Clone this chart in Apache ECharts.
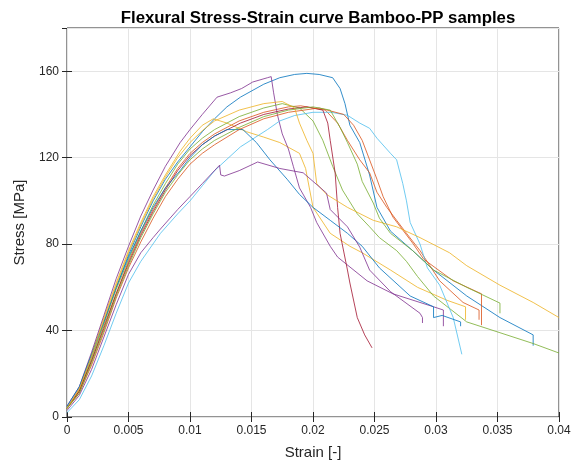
<!DOCTYPE html>
<html>
<head>
<meta charset="utf-8">
<script src="https://cdn.jsdelivr.net/npm/echarts@6/dist/echarts.min.js"></script>
<style>
    html, body { margin: 0; padding: 0; background: #fff; }
    #chart { width: 580px; height: 466px; }
</style>
</head>
<body>
<div id="chart"></div>
<script>
// [strain, stress MPa], one array per sample
var blueHigh = [[0,4],[0.001,13],[0.002,28],[0.003,44],[0.004,60],[0.005,75],[0.006,88],[0.007,100],[0.008,110],[0.009,118],[0.01,125],[0.011,132],[0.012,138],[0.013,143.5],[0.0141,148],[0.016,154],[0.0173,157],[0.0185,158.5],[0.0195,159],[0.0205,158.5],[0.0216,157],[0.0222,152],[0.0226,145],[0.023,135],[0.0238,127],[0.0246,112],[0.0252,97],[0.0263,86],[0.0281,77],[0.0298,68],[0.0325,56],[0.0352,46],[0.0379,38],[0.0379,33]];
var orange1 = [[0,4],[0.001,12],[0.002,26],[0.003,42],[0.004,57],[0.005,72],[0.006,85],[0.007,96],[0.008,106],[0.009,115],[0.01,122],[0.011,127],[0.012,131],[0.014,137],[0.016,141],[0.018,143.5],[0.019,144],[0.021,142],[0.022,136],[0.0228,128],[0.0238,119],[0.0246,113],[0.0252,104],[0.026,97],[0.0268,91],[0.0276,85],[0.0287,77],[0.0295,70],[0.0303,63],[0.0322,53],[0.0335,49.5],[0.0335,45]];
var yellowEarly = [[0,4],[0.001,13],[0.002,29],[0.003,46],[0.004,62],[0.005,77],[0.006,90],[0.007,102],[0.008,112],[0.0092,123],[0.01,129],[0.011,135],[0.0119,138],[0.013,136],[0.0146,132],[0.016,129.5],[0.0173,127],[0.0189,122],[0.0194,115],[0.0197,106],[0.02,97],[0.0214,85],[0.023,79],[0.024,76],[0.0263,68],[0.0285,60],[0.0309,54],[0.0324,51],[0.0324,45]];
var purpleHigh = [[0,5],[0.001,14],[0.002,30],[0.003,47],[0.004,64],[0.005,79],[0.006,93],[0.007,105],[0.008,116],[0.0092,127],[0.01,133],[0.011,140],[0.0122,148],[0.0133,150],[0.0142,152],[0.0151,155],[0.0163,157],[0.0166,157.5],[0.0168,150],[0.0171,140],[0.0175,131],[0.018,124],[0.0184,116],[0.0189,106],[0.0198,97],[0.0203,90],[0.0214,79],[0.022,74],[0.0244,63],[0.0265,57],[0.0287,53],[0.0298,51],[0.0306,49.5],[0.0306,42]];
var green1 = [[0,4],[0.001,12],[0.002,27],[0.003,43],[0.004,59],[0.005,73],[0.006,86],[0.007,98],[0.008,108],[0.009,117],[0.01,124],[0.011,129],[0.012,133],[0.014,139],[0.016,143],[0.0175,145],[0.0189,143],[0.02,137],[0.0208,128],[0.0216,116],[0.0224,105],[0.0236,94],[0.0246,88],[0.0254,83],[0.0268,77],[0.0276,72],[0.0285,65],[0.0298,56],[0.0325,44],[0.0352,39],[0.0379,34],[0.04,29.6]];
var lightBlue = [[0,2],[0.001,8],[0.002,19],[0.003,33],[0.004,48],[0.005,62],[0.006,72],[0.0076,85],[0.009,94],[0.01,100],[0.011,107],[0.012,114],[0.0141,125],[0.0163,133],[0.0173,137],[0.0185,139.5],[0.02,141],[0.0215,141],[0.0228,139.6],[0.0238,136],[0.0246,133.6],[0.0252,129],[0.0263,122],[0.0268,119],[0.0273,108],[0.0276,100],[0.0279,90],[0.0287,80],[0.0293,69],[0.0303,61],[0.0314,46],[0.0321,29]];
var darkRed = [[0,4],[0.001,12],[0.002,26],[0.003,41],[0.004,57],[0.005,71],[0.006,84],[0.007,95],[0.008,105],[0.009,114],[0.01,121],[0.011,126],[0.012,130],[0.0141,136],[0.016,140],[0.018,142.5],[0.0195,143.5],[0.0208,142],[0.0212,136],[0.0214,128],[0.0218,113],[0.022,97],[0.0222,85],[0.0228,68],[0.023,62],[0.0236,46],[0.0242,38],[0.0248,32]];
var blue2 = [[0,5],[0.001,14],[0.002,29],[0.003,44],[0.004,60],[0.005,74],[0.006,86],[0.007,97],[0.008,106],[0.0092,114],[0.01,120],[0.011,126],[0.012,130],[0.013,133],[0.0143,133],[0.0154,127],[0.0165,119],[0.0179,110],[0.0189,103],[0.02,97],[0.0214,91],[0.0228,85],[0.024,79],[0.0254,69],[0.0279,56],[0.0298,51],[0.0298,46],[0.0305,47],[0.032,44],[0.032,42]];
var orange2 = [[0,4],[0.001,11],[0.002,24],[0.003,39],[0.004,55],[0.005,69],[0.006,81],[0.007,92],[0.008,102],[0.009,110],[0.01,117],[0.011,122],[0.012,126],[0.014,133],[0.016,138],[0.018,141],[0.0205,143],[0.0225,140],[0.0233,135],[0.024,128],[0.0246,119],[0.0252,110],[0.0257,102],[0.0265,92.5],[0.0273,86.5],[0.0281,80.5],[0.029,73],[0.0314,63],[0.0337,57],[0.0337,42.5]];
var yellowLong = [[0,4],[0.001,13],[0.002,28],[0.003,45],[0.004,61],[0.005,76],[0.006,89],[0.007,101],[0.008,111],[0.009,120],[0.01,127],[0.011,132.5],[0.012,137],[0.014,142],[0.016,145],[0.0175,146],[0.0185,143],[0.0189,136],[0.0195,128],[0.02,122],[0.0203,108],[0.0211,103],[0.0228,97],[0.0249,91],[0.0268,88],[0.0287,83],[0.0311,76],[0.0325,70],[0.0352,61],[0.0379,53],[0.04,46]];
var purpleNotch = [[0,3],[0.001,10],[0.002,22],[0.003,37],[0.004,52],[0.005,66],[0.006,76],[0.007,83],[0.0076,87],[0.009,96],[0.01,102],[0.011,108],[0.0124,116.5],[0.0125,112],[0.0128,111.5],[0.014,114],[0.0155,118],[0.0173,115],[0.0192,113],[0.0211,103.6],[0.0214,96],[0.0228,88],[0.0238,78.6],[0.0246,68],[0.0263,58],[0.0287,48],[0.0289,46],[0.0289,43.5]];
var green2 = [[0,4],[0.001,11],[0.002,25],[0.003,40],[0.004,56],[0.005,70],[0.006,83],[0.007,94],[0.008,104],[0.009,112],[0.01,119],[0.011,124],[0.012,128],[0.014,134],[0.016,139],[0.018,142],[0.02,143.5],[0.0214,142],[0.0222,134],[0.0228,127],[0.0236,117],[0.024,109],[0.0249,99],[0.0254,92],[0.0263,85],[0.0281,77],[0.0298,68],[0.0325,60],[0.0352,52.7],[0.0352,48]];

var samples = [blueHigh, orange1, yellowEarly, purpleHigh, green1, lightBlue, darkRed,
               blue2, orange2, yellowLong, purpleNotch, green2];
var colors = ["#0072BD", "#D95319", "#EDB120", "#7E2F8E", "#77AC30", "#4DBEEE", "#A2142F"];

var textColor = "#262626";
var myChart = echarts.init(document.getElementById("chart"));

var series = samples.map(function (d, i) {
    return {
        type: "line",
        data: d,
        showSymbol: false,
        silent: true,
        color: colors[i % colors.length],
        lineStyle: { width: 1, opacity: 0.8 },
    };
});

myChart.setOption({
    animation: false,
    title: {
        text: "Flexural Stress-Strain curve Bamboo-PP samples",
        left: 313,
        textAlign: "center",
        top: 5,
        textStyle: {
            fontFamily: "Liberation Sans",
            fontSize: 16.8,
            fontWeight: "bold",
            color: "#000",
        },
    },
    grid: {
        left: 67,
        right: 21,
        top: 28,
        bottom: 49,
        show: true,
        borderColor: textColor,
        borderWidth: 1,
    },
    xAxis: [
        {
            type: "value",
            min: 0,
            max: 0.04,
            interval: 0.005,
            name: "Strain [-]",
            nameLocation: "middle",
            nameGap: 28,
            nameTextStyle: { fontFamily: "Liberation Sans", fontSize: 15, color: textColor },
            axisLine: { show: false },
            axisTick: { inside: true, length: 5, lineStyle: { color: textColor } },
            axisLabel: { fontFamily: "Liberation Sans", fontSize: 12, color: textColor, margin: 8 },
            splitLine: { lineStyle: { color: "#e5e5e5" } },
        },
        {
            type: "value",
            position: "top",
            min: 0,
            max: 0.04,
            interval: 0.005,
            axisLine: { show: false },
            axisTick: { inside: true, length: 5, lineStyle: { color: textColor } },
            axisLabel: { show: false },
            splitLine: { show: false },
        },
    ],
    yAxis: [
        {
            type: "value",
            min: 0,
            max: 180,
            interval: 40,
            name: "Stress [MPa]",
            nameLocation: "middle",
            nameGap: 40,
            nameTextStyle: { fontFamily: "Liberation Sans", fontSize: 15, color: textColor },
            axisLine: { show: false },
            axisTick: { inside: true, length: 5, lineStyle: { color: textColor } },
            axisLabel: { fontFamily: "Liberation Sans", fontSize: 12, color: textColor, margin: 8, showMaxLabel: false },
            splitLine: { lineStyle: { color: "#e5e5e5" } },
        },
        {
            type: "value",
            position: "right",
            min: 0,
            max: 180,
            interval: 40,
            axisLine: { show: false },
            axisTick: { inside: true, length: 5, lineStyle: { color: textColor } },
            axisLabel: { show: false },
            splitLine: { show: false },
        },
    ],
    series: series,
});
</script>
</body>
</html>
